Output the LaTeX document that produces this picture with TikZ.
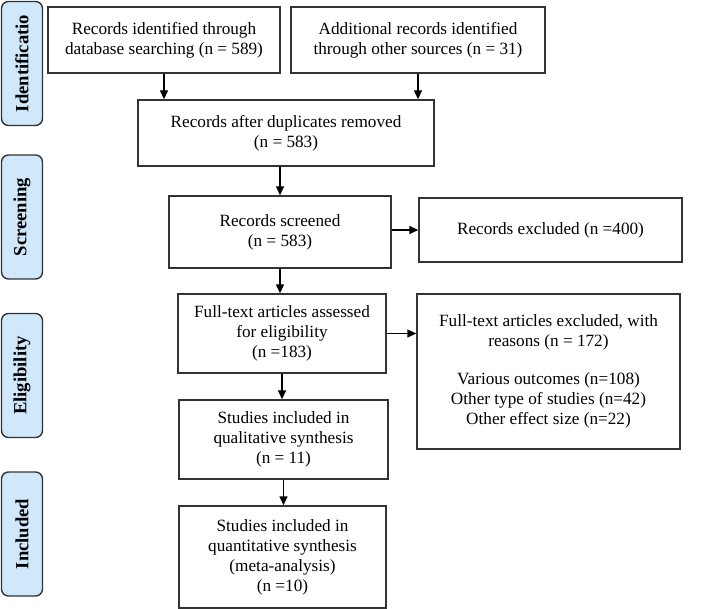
\documentclass[tikz,border=0pt]{standalone}
\usepackage{fontspec}
\setmainfont{Liberation Serif}
\usetikzlibrary{arrows.meta,calc}
\definecolor{labfill}{HTML}{CFE8FB}
\definecolor{edge}{HTML}{333333}
\begin{document}
\begin{tikzpicture}[x=1pt,y=-1pt,
  box/.style={draw=edge,line width=1.4pt,fill=white,align=center,inner sep=2pt,
    font=\fontsize{17.2}{20}\selectfont},
  phase/.style={draw=edge,line width=1.4pt,fill=labfill,rounded corners=7pt,
    minimum width=41pt,minimum height=124pt,inner sep=0pt},
  phasetext/.style={rotate=90,font=\fontsize{18.6}{20}\selectfont\bfseries},
  arr/.style={line width=1.4pt,-{Triangle[length=9pt,width=8pt]}}]
\useasboundingbox (0,0) rectangle (708,609);
% phase labels
\node[phase] (p1) at (22,63.5) {};
\node[phasetext] (t1) at (p1.center) {Identificatio};
\node[phase] (p2) at (22,217) {};
\node[phasetext] (t2) at (p2.center) {Screening};
\node[phase] (p3) at (22,375.5) {};
\node[phasetext] (t3) at (p3.center) {Eligibility};
\node[phase] (p4) at (22,534) {};
\node[phasetext] (t4) at (p4.center) {Included};
% boxes
\node[box,minimum width=232pt,minimum height=66pt] (A) at (164,40)
  {Records identified through\\database searching (n = 589)};
\node[box,minimum width=254pt,minimum height=66pt] (B) at (418,40)
  {Additional records identified\\through other sources (n = 31)};
\node[box,minimum width=296pt,minimum height=66pt] (C) at (286,133)
  {Records after duplicates removed\\(n = 583)};
\node[box,minimum width=222pt,minimum height=72pt] (D) at (280,232)
  {Records screened\\(n = 583)};
\node[box,minimum width=263pt,minimum height=64pt] (E) at (550.5,230)
  {Records excluded (n =400)};
\node[box,minimum width=208pt,minimum height=79pt] (F) at (282,333.5)
  {Full-text articles assessed\\for eligibility\\(n =183)};
\node[box,minimum width=263pt,minimum height=155pt] (G) at (548.5,371.5)
  {Full-text articles excluded, with\\reasons (n = 172)\\[18pt]Various outcomes (n=108)\\Other type of studies (n=42)\\Other effect size (n=22)};
\node[box,minimum width=209pt,minimum height=79pt] (H) at (283.5,439.5)
  {Studies included in\\qualitative synthesis\\(n = 11)};
\node[box,minimum width=207pt,minimum height=102pt] (I) at (282.5,557)
  {Studies included in\\quantitative synthesis\\(meta-analysis)\\(n =10)};
% arrows
\draw[arr] (A.south) -- (A.south |- C.north);
\draw[arr] (B.south) -- (B.south |- C.north);
\draw[arr] (C.south -| D.north) -- (D.north);
\draw[arr] (E.west -| D.east) -- (E.west);
\draw[arr] (D.south) -- (D.south |- F.north);
\draw[arr] (F.east) -- (F.east -| G.west);
\draw[arr] (F.south) -- (F.south |- H.north);
\draw[arr] (H.south) -- (H.south |- I.north);
\end{tikzpicture}
\end{document}
